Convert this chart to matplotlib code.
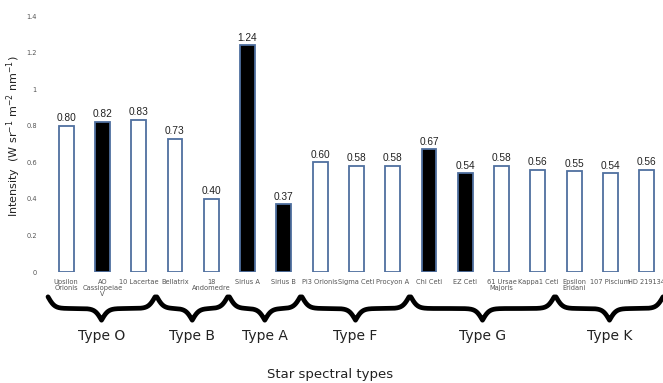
import matplotlib
matplotlib.use("Agg")
import matplotlib.pyplot as plt
import matplotlib.transforms as mtransforms
import numpy as np

# star names, measured intensities and which bars are filled
stars = ["Upsilon\nOrionis", "AO\nCassiopeiae\nV", "10 Lacertae", "Bellatrix", "18\nAndomedre",
         "Sirius A", "Sirius B", "Pi3 Orionis", "Sigma Ceti", "Procyon A",
         "Chi Ceti", "EZ Ceti", "61 Ursae\nMajoris", "Kappa1 Ceti",
         "Epsilon\nEridani", "107 Piscium", "HD 219134"]
intensity = [0.80, 0.82, 0.83, 0.73, 0.40, 1.24, 0.37, 0.60, 0.58, 0.58,
             0.67, 0.54, 0.58, 0.56, 0.55, 0.54, 0.56]
filled = [False, True, False, False, False, True, True, False, False, False,
          True, True, False, False, False, False, False]

# spectral type groups: (label, first bar, last bar)
groups = [("Type O", 0, 2), ("Type B", 3, 4), ("Type A", 5, 6),
          ("Type F", 7, 9), ("Type G", 10, 13), ("Type K", 14, 16)]

yticks = [0, 0.2, 0.4, 0.6, 0.8, 1.0, 1.2, 1.4]
ytick_labels = ["0", "0.2", "0.4", "0.6", "0.8", "1", "1.2", "1.4"]

fig = plt.figure(figsize=(6.63, 3.83), dpi=100)
ax = fig.add_axes([0.0724, 0.2898, 0.9276, 0.6684])

x = np.arange(len(stars))
edge = "#4f6f9f"
colors = ["black" if f else "white" for f in filled]
ax.bar(x, intensity, width=0.41, color=colors, edgecolor=edge, linewidth=1.3)

for xi, v in zip(x, intensity):
    ax.text(xi, v + 0.015, f"{v:.2f}", ha="center", va="bottom",
            fontsize=7.3, family="Liberation Sans", color="#222222")

ax.set_xlim(-0.5, 16.45)
ax.set_ylim(0, 1.4)
ax.set_yticks(yticks)
ax.set_yticklabels(ytick_labels)
ax.set_xticks(x)
ax.set_xticklabels(stars, linespacing=1.05)
ax.tick_params(axis="both", length=0, labelsize=4.8, colors="#555555")
ax.tick_params(axis="x", pad=5)
ax.tick_params(axis="y", pad=8)
for s in ax.spines.values():
    s.set_visible(False)

ax.set_ylabel(r"Intensity  (W sr$^{-1}$ m$^{-2}$ nm$^{-1}$)", fontsize=8,
              family="DejaVu Sans", color="#222222")
ax.yaxis.set_label_coords(-0.040, 0.53)

# curly braces under each spectral group (x in data, y in figure fraction)
trans = mtransforms.blended_transform_factory(ax.transData, fig.transFigure)
px_per_unit = 36.28
beta = 0.3 * px_per_unit
y_top, y_tip = 0.225, 0.164


def brace(x0, x1):
    half = (x1 - x0) / 2
    xs = np.linspace(0, half, 200)
    yh = 1 / (1 + np.exp(-beta * xs)) + 1 / (1 + np.exp(-beta * (xs - half)))
    yy = np.concatenate([yh, yh[-2::-1]])
    xx = np.concatenate([x0 + xs, x0 + half + (half - xs[-2::-1])])
    yfig = y_top + (yy - 0.5) * (y_tip - y_top)
    ax.plot(xx, yfig, color="black", lw=3.4, transform=trans, clip_on=False,
            solid_capstyle="round")


for label, first, last in groups:
    x0, x1 = first - 0.5, last + 0.45
    brace(x0, x1)
    ax.text((x0 + x1) / 2, 0.124, label, transform=trans, ha="center", va="center",
            fontsize=10, family="DejaVu Sans", color="#222222")

fig.text(0.498, 0.022, "Star spectral types", ha="center", va="center",
         fontsize=9.5, family="DejaVu Sans", color="#222222")

fig.savefig("out.png", dpi=100)
